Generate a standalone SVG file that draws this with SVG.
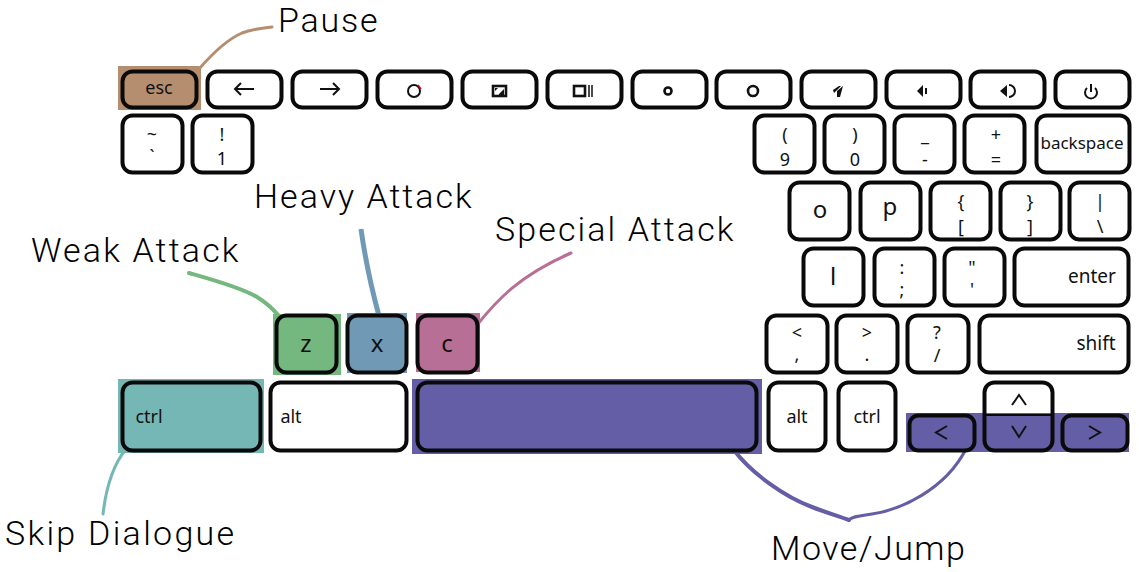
<svg xmlns="http://www.w3.org/2000/svg" width="1139" height="572" viewBox="0 0 1139 572">
<style>
.k{fill:#fff;stroke:#0a0a0a;stroke-width:4}
.n{fill:none;stroke:#0a0a0a;stroke-width:4}
text{font-family:"Noto Sans","Open Sans",sans-serif;fill:#111;text-anchor:middle}
.s{font-size:18px}
.w{font-size:17px}
.m{font-size:19px}
.b{font-size:24px}
.l{font-family:Roboto,"Noto Sans",sans-serif;font-weight:300;font-size:34px;text-anchor:start;fill:#000}
.c{fill:none;stroke-width:3;stroke-linecap:round}
.i{fill:none;stroke:#111;stroke-width:2}
.h{fill:none;stroke:#111;stroke-width:2.600}
.f{fill:#111}
</style>
<g id="highlights">
<rect x="118" y="66" width="83" height="44" fill="#b58e6f"/>
<rect x="273" y="314" width="68" height="61" fill="#74b77f"/>
<rect x="347" y="313" width="60" height="60" fill="#7099b5"/>
<rect x="416" y="313" width="64" height="59" fill="#b86f96"/>
<rect x="118" y="379" width="146" height="74" fill="#75b7b4"/>
<rect x="412" y="379" width="350" height="75" fill="#635ea6"/>
<rect x="906" y="413" width="223" height="39" fill="#635ea6"/>
</g>
<g id="connectors">
<path class="c" stroke="#b58e6f" d="M199 69C212 54 226 40 242 33C252 29 262 28 272 27"/>
<path class="c" stroke="#74b77f" style="stroke-width:4" d="M189 273C210 279 240 287 257 297C267 303 273 309 279 316"/>
<path class="c" stroke="#7099b5" style="stroke-width:5;stroke-linecap:butt" d="M361 229C365 258 372 290 379 316"/>
<path class="c" stroke="#b86f96" d="M477 325C497 300 520 275 571 253"/>
<path class="c" stroke="#75b7b4" d="M126 449C113 465 106 488 103 514"/>
<path class="c" stroke="#635ea6" style="stroke-width:4" d="M733 449C752 474 785 497 812 507C825 512 838 516 849 520"/>
<path class="c" stroke="#635ea6" d="M849 520C852 516 860 516 872 514C900 510 945 490 966 449"/>
</g>
<g id="key-esc"><rect class="n" x="122.500" y="71.500" width="74" height="36" rx="10"/><text class="s" x="159" y="94">esc</text></g>
<g id="key-left"><rect class="k" x="207.500" y="71.500" width="74" height="36" rx="10"/><path class="i" d="M254 89H235M241 83L235 89L241 95"/></g>
<g id="key-right"><rect class="k" x="292.500" y="71.500" width="74" height="36" rx="10"/><path class="i" d="M320 89H339M333 83L339 89L333 95"/></g>
<g id="key-reload"><rect class="k" x="377.500" y="71.500" width="74" height="36" rx="10"/><circle class="i" cx="414" cy="91" r="6"/><path d="M418 85L421 89" stroke="#c11" stroke-width="1.500"/></g>
<g id="key-fullscreen"><rect class="k" x="462.500" y="71.500" width="74" height="36" rx="10"/><rect class="h" x="493" y="86" width="13" height="10"/><path class="f" d="M495 88h3l-3 3zM499 94l5-5v6h-5z"/></g>
<g id="key-windows"><rect class="k" x="547.500" y="71.500" width="74" height="36" rx="10"/><rect class="h" x="574" y="86" width="11" height="10"/><path d="M589 85V97M592 85V97" stroke="#111" stroke-width="1.500"/></g>
<g id="key-bright-down"><rect class="k" x="632.500" y="71.500" width="74" height="36" rx="10"/><circle class="h" cx="668" cy="91" r="3.500"/></g>
<g id="key-bright-up"><rect class="k" x="716.500" y="71.500" width="74" height="36" rx="10"/><circle class="h" cx="753" cy="91" r="5"/></g>
<g id="key-mute"><rect class="k" x="801.500" y="71.500" width="74" height="36" rx="10"/><path class="f" d="M833 90l6-4h2l-7 7zM837 91l6-5-3 11h-3z"/></g>
<g id="key-vol-down"><rect class="k" x="886.500" y="71.500" width="74" height="36" rx="10"/><path class="f" d="M917 91l6-6v12z"/><path d="M926 88v6" stroke="#111" stroke-width="2"/></g>
<g id="key-vol-up"><rect class="k" x="970.500" y="71.500" width="74" height="36" rx="10"/><path class="f" d="M1000 91l7-6v12z"/><path d="M1009 85a6 6 0 0 1 0 12" fill="none" stroke="#111" stroke-width="2"/></g>
<g id="key-power"><rect class="k" x="1055.500" y="71.500" width="74" height="36" rx="10"/><path class="i" d="M1087 88a6 6 0 1 0 8 0M1091 84V92"/></g>
<g id="key-tilde"><rect class="k" x="122.500" y="115.500" width="60" height="57" rx="10"/><text class="s" x="152" y="141">~</text><text class="s" x="152" y="163">`</text></g>
<g id="key-1"><rect class="k" x="192.500" y="115.500" width="60" height="57" rx="10"/><text class="s" x="222" y="141">!</text><text class="s" x="222" y="165">1</text></g>
<g id="key-9"><rect class="k" x="754.500" y="115.500" width="60" height="57" rx="10"/><text class="s" x="785" y="141">(</text><text class="s" x="785" y="166">9</text></g>
<g id="key-0"><rect class="k" x="824.500" y="115.500" width="60" height="57" rx="10"/><text class="s" x="855" y="141">)</text><text class="s" x="855" y="166">0</text></g>
<g id="key-minus"><rect class="k" x="894.500" y="115.500" width="60" height="57" rx="10"/><text class="s" x="925" y="141">_</text><text class="s" x="925" y="166">-</text></g>
<g id="key-plus"><rect class="k" x="964.500" y="115.500" width="60" height="57" rx="10"/><text class="s" x="996" y="141">+</text><text class="s" x="996" y="166">=</text></g>
<g id="key-backspace"><rect class="k" x="1036.500" y="115.500" width="93" height="57" rx="10"/><text class="w" x="1082" y="149">backspace</text></g>
<g id="key-o"><rect class="k" x="789.500" y="182.500" width="60" height="57" rx="10"/><text class="b" x="820" y="218">o</text></g>
<g id="key-p"><rect class="k" x="860.500" y="182.500" width="60" height="57" rx="10"/><text class="b" x="890" y="215">p</text></g>
<g id="key-lbrace"><rect class="k" x="930.500" y="182.500" width="60" height="57" rx="10"/><text class="s" x="961" y="208">{</text><text class="s" x="961" y="233">[</text></g>
<g id="key-rbrace"><rect class="k" x="1000.500" y="182.500" width="60" height="57" rx="10"/><text class="s" x="1030" y="208">}</text><text class="s" x="1030" y="233">]</text></g>
<g id="key-backslash"><rect class="k" x="1069.500" y="182.500" width="60" height="57" rx="10"/><text class="s" x="1100" y="208">|</text><text class="s" x="1100" y="233">\</text></g>
<g id="key-l"><rect class="k" x="803.500" y="248.500" width="60" height="57" rx="10"/><text class="b" x="833" y="285">l</text></g>
<g id="key-semicolon"><rect class="k" x="874.500" y="248.500" width="60" height="57" rx="10"/><text class="s" x="902" y="274">:</text><text class="s" x="902" y="296">;</text></g>
<g id="key-quote"><rect class="k" x="944.500" y="248.500" width="60" height="57" rx="10"/><text class="s" x="972" y="274">"</text><text class="s" x="972" y="296">'</text></g>
<g id="key-enter"><rect class="k" x="1014.500" y="248.500" width="114" height="57" rx="10"/><text class="m" x="1092" y="283">enter</text></g>
<g id="key-comma"><rect class="k" x="766.500" y="315.500" width="61" height="57" rx="10"/><text class="s" x="797" y="339">&lt;</text><text class="s" x="797" y="361">,</text></g>
<g id="key-period"><rect class="k" x="836.500" y="315.500" width="61" height="57" rx="10"/><text class="s" x="867" y="339">&gt;</text><text class="s" x="867" y="361">.</text></g>
<g id="key-slash"><rect class="k" x="907.500" y="315.500" width="61" height="57" rx="10"/><text class="s" x="937" y="339">?</text><text class="s" x="937" y="362">/</text></g>
<g id="key-shift"><rect class="k" x="979.500" y="315.500" width="149" height="57" rx="10"/><text class="m" x="1096" y="350">shift</text></g>
<g id="key-z"><rect class="n" x="276.500" y="315.500" width="60" height="57" rx="10"/><text class="b" x="306" y="352">z</text></g>
<g id="key-x"><rect class="n" x="347.500" y="315.500" width="59" height="57" rx="10"/><text class="b" x="377" y="352">x</text></g>
<g id="key-c"><rect class="n" x="417.500" y="315.500" width="60" height="57" rx="10"/><text class="b" x="447" y="352">c</text></g>
<g id="key-ctrl"><rect class="n" x="122.500" y="382.500" width="138" height="68" rx="10"/><text class="s" x="149" y="423">ctrl</text></g>
<g id="key-alt"><rect class="k" x="270.500" y="382.500" width="136" height="68" rx="10"/><text class="s" x="291" y="423">alt</text></g>
<g id="key-space"><rect class="n" x="417.500" y="382.500" width="339" height="68" rx="10"/></g>
<g id="key-alt-right"><rect class="k" x="768.500" y="382.500" width="57" height="68" rx="10"/><text class="s" x="797" y="423">alt</text></g>
<g id="key-ctrl-right"><rect class="k" x="838.500" y="382.500" width="57" height="68" rx="10"/><text class="s" x="867" y="423">ctrl</text></g>
<g id="key-left-arrow"><rect class="n" x="909.500" y="415.500" width="65" height="35" rx="9"/><path class="i" d="M947 426L936 432.500L947 439"/></g>
<g id="key-up-down"><rect class="n" x="984.500" y="382.500" width="68" height="68" rx="10"/><path d="M984 415H1053" stroke="#0a0a0a" stroke-width="2"/><path class="i" d="M1012 405L1019 395L1026 405M1012 426L1019 437L1026 426"/></g>
<g id="key-right-arrow"><rect class="n" x="1062.500" y="415.500" width="65" height="35" rx="9"/><path class="i" d="M1089 426L1100 432.500L1089 439"/></g>
<g id="labels">
<text class="l" x="278" y="32" letter-spacing="1.800">Pause</text>
<text class="l" x="254" y="208" letter-spacing="2">Heavy Attack</text>
<text class="l" x="495" y="241" letter-spacing="2.100">Special Attack</text>
<text class="l" x="31" y="262" letter-spacing="2.150">Weak Attack</text>
<text class="l" x="5" y="545" letter-spacing="2.300">Skip Dialogue</text>
<text class="l" x="771" y="560" letter-spacing="1.500">Move/Jump</text>
</g>
</svg>
